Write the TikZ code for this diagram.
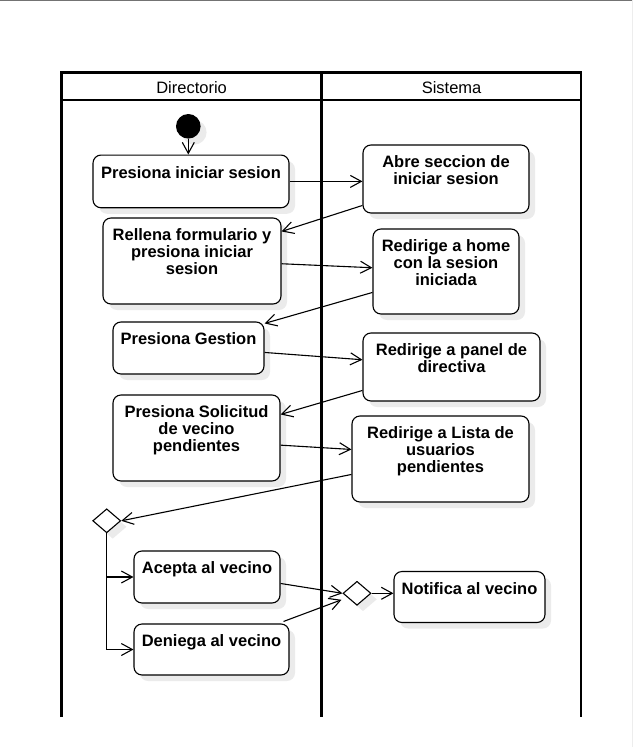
\documentclass[tikz,border=0pt]{standalone}
\usepackage{fontspec}
\setmainfont{Liberation Sans}
\usetikzlibrary{arrows.meta,shapes.geometric,shadows,calc}
\newcommand\bxt[3]{\begin{minipage}[t][#2][t]{#1}\centering\vspace*{11pt}#3\end{minipage}}
\begin{document}
\begin{tikzpicture}[x=1pt,y=-1pt,
  shd/.style={general shadow={fill=black!8, shadow xshift=6pt, shadow yshift=-6pt}},
  act/.style={draw=black, line width=1.1pt, rounded corners=8pt, fill=white, inner sep=0pt, shd, font=\fontsize{16.5}{16.7}\selectfont\bfseries},
  dia/.style={diamond, draw, line width=1.1pt, fill=white, inner sep=0pt, minimum width=28pt, minimum height=24pt, shd},
  lane/.style={line width=2.5pt},
  flow/.style={line width=1.1pt, -{Straight Barb[length=11pt,width=12pt]}},
  hdr/.style={font=\fontsize{16.5}{18}\selectfont, anchor=base, inner sep=0pt}
]
\useasboundingbox (0,0) rectangle (633,747);
\draw[black!55, line width=1.2pt] (0,0.6) -- (633,0.6);
\draw[black!7, line width=1pt] (632.5,0) -- (632.5,747);

% swimlanes
\draw[lane] (61.3,717) -- (61.3,72.5) -- (581,72.5) -- (581,717);
\draw[lane] (61.3,99.8) -- (581,99.8);
\draw[lane] (321.7,72.5) -- (321.7,717);
\node[hdr] (hd) at (191.6,93.3) {Directorio};
\node[hdr] (hs) at (451.6,93.3) {Sistema};

% nodes
\node[circle, fill=black, minimum size=24.6pt, inner sep=0pt, shd] (start) at (188.3,126.3) {};
\node[act] (pis) at (191,181.4) {\bxt{196pt}{52.7pt}{Presiona iniciar sesion}};
\node[act] (rel) at (192,261) {\bxt{178pt}{86pt}{Rellena formulario y\\presiona iniciar\\sesion}};
\node[act] (abre) at (446,179) {\bxt{166pt}{68pt}{Abre seccion de\\iniciar sesion}};
\node[act] (home) at (446,271.5) {\bxt{146pt}{85pt}{Redirige a home\\con la sesion\\iniciada}};
\node[act] (ges) at (188.5,348) {\bxt{151pt}{52pt}{Presiona Gestion}};
\node[act] (sol) at (196.5,438) {\bxt{167pt}{86pt}{Presiona Solicitud\\de vecino\\pendientes}};
\node[act] (panel) at (451.5,367) {\bxt{177pt}{68pt}{Redirige a panel de\\directiva}};
\node[act] (lista) at (440.5,459) {\bxt{177pt}{86pt}{Redirige a Lista de\\usuarios\\pendientes}};
\node[dia] (dec) at (106.7,520.8) {};
\node[act] (acepta) at (207,577) {\bxt{146pt}{52pt}{Acepta al vecino}};
\node[act] (deniega) at (211.5,649.5) {\bxt{155pt}{51pt}{Deniega al vecino}};
\node[dia] (merge) at (357,593.3) {};
\node[act] (notif) at (469.5,597) {\bxt{151pt}{51pt}{Notifica al vecino}};

% connectors
\draw[flow] (start.south) -- (start.south |- pis.north);
\draw[flow] (pis.east) -- (pis.east -| abre.west);
\draw[flow] ($(abre.north west)+(0,61)$) -- ($(rel.north east)+(0,14)$);
\draw[flow] ($(rel.north east)+(0,46.3)$) -- ($(home.north west)+(0,39.3)$);
\draw[flow] ($(home.north west)+(0,64)$) -- ($(ges.north east)+(0,2)$);
\draw[flow] ($(ges.north east)+(0,31)$) -- ($(panel.north west)+(0,27.3)$);
\draw[flow] ($(panel.north west)+(0,58)$) -- ($(sol.north east)+(0,20)$);
\draw[flow] ($(sol.north east)+(0,50.7)$) -- ($(lista.north west)+(0,34)$);
\draw[flow] ($(lista.north west)+(0,59)$) -- (dec.east);
\draw[flow] (dec.south) |- (acepta.west);
\draw[flow] (dec.south) |- (deniega.west);
\draw[flow] ($(acepta.north east)+(0,33)$) -- (merge.west);
\draw[flow] ($(deniega.north east)+(-6,-2)$) -- ($(merge.west)+(-1,6.5)$);
\draw[flow] (merge.east) -- (merge.east -| notif.west);
\end{tikzpicture}
\end{document}
